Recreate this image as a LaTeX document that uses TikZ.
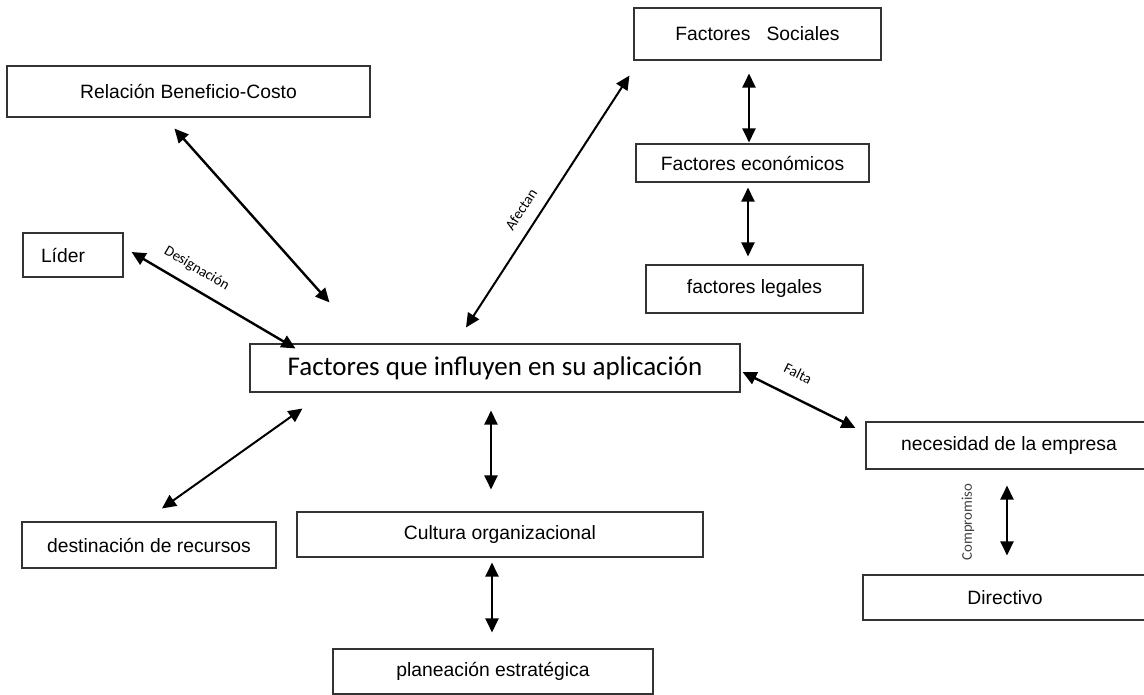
\documentclass[tikz,border=0pt]{standalone}
\usepackage{fontspec}
\setmainfont{Liberation Sans}
\newfontfamily\carlito{Carlito}
\usetikzlibrary{arrows.meta,calc}
\begin{document}
\begin{tikzpicture}[x=1pt,y=-1pt,
  box/.style={draw=black!80, line width=1.1pt, inner sep=0pt, fill=white,
    font=\fontsize{19.3pt}{23pt}\selectfont},
  link/.style={line width=2.4pt, {Triangle[length=14pt,width=13pt]}-{Triangle[length=14pt,width=13pt]}},
  thinlink/.style={link, line width=2pt},
  lab/.style={font=\carlito\fontsize{14.8pt}{17pt}\selectfont, inner sep=0pt}]
\useasboundingbox (0,0) rectangle (1144,695);

% boxes
\node[box, minimum width=363pt, minimum height=51pt] (rel) at (188.5,91.5) {Relación Beneficio-Costo};
\node[box, minimum width=247pt, minimum height=52pt] (soc) at (757.5,34) {Factores\ \ \ Sociales};
\node[box, minimum width=233pt, minimum height=38pt] (eco) at (752.5,163) {Factores económicos};
\node[box, minimum width=217pt, minimum height=48pt] (leg) at (754.5,289) {factores legales};
\node[box, minimum height=44pt, text width=64pt, inner xsep=18pt, align=left] (lid) at (73,255) {Líder};
\node[box, minimum width=490pt, minimum height=48pt, font=\carlito\fontsize{27pt}{32pt}\selectfont] (main) at (495,368) {Factores que influyen en su aplicación};
\node[box, minimum width=286pt, minimum height=47pt] (nec) at (1009,445.5) {necesidad de la empresa};
\node[box, minimum width=284pt, minimum height=45pt] (dir) at (1005,597.5) {Directivo};
\node[box, minimum width=254pt, minimum height=46pt] (des) at (149,545) {destinación de recursos};
\node[box, minimum width=406pt, minimum height=45pt] (cul) at (500,534.5) {Cultura organizacional};
\node[box, minimum width=320pt, minimum height=45pt] (pla) at (493,671.5) {planeación estratégica};

% connectors
\draw[link] ($(rel.south west)+(168,11)$) -- ($(main.north west)+(80,-41)$);
\draw[link] ($(lid.east)+(8,-3)$) -- node[lab, pos=0.34, sloped, above=11pt] {Designación} ($(main.north west)+(46,5)$);
\draw[thinlink] ($(main.north)+(-29,-16)$) -- node[lab, pos=0.43, sloped, above=12pt] {Afectan} ($(soc.south west)+(-4,15)$);
\draw[link] ($(soc.south)+(-8.5,13)$) -- ($(eco.north)+(-3.5,-1)$);
\draw[link] ($(eco.south)+(-4.5,5)$) -- ($(leg.north)+(-6.5,-8)$);
\draw[link] ($(main.east)+(2,4)$) -- node[lab, pos=0.4, sloped, above=17pt] {Falta} ($(nec.west)+(-10,-17.5)$);
\draw[thinlink] ($(des.north)+(13,-13)$) -- ($(main.south west)+(53,16)$);
\draw[link] ($(main.south)+(-4,18)$) -- ($(cul.north)+(-9,-22)$);
\draw[link] ($(cul.south)+(-8,5)$) -- ($(pla.north)+(-1,-16)$);
\draw[link] ($(nec.south)+(-2,16)$) -- ($(dir.north)+(2,-19)$);
\node[lab, rotate=90, text=black!75] (comp) at ($(nec.south)!0.5!(dir.north)+(-39,0)$) {Compromiso};
\end{tikzpicture}
\end{document}
